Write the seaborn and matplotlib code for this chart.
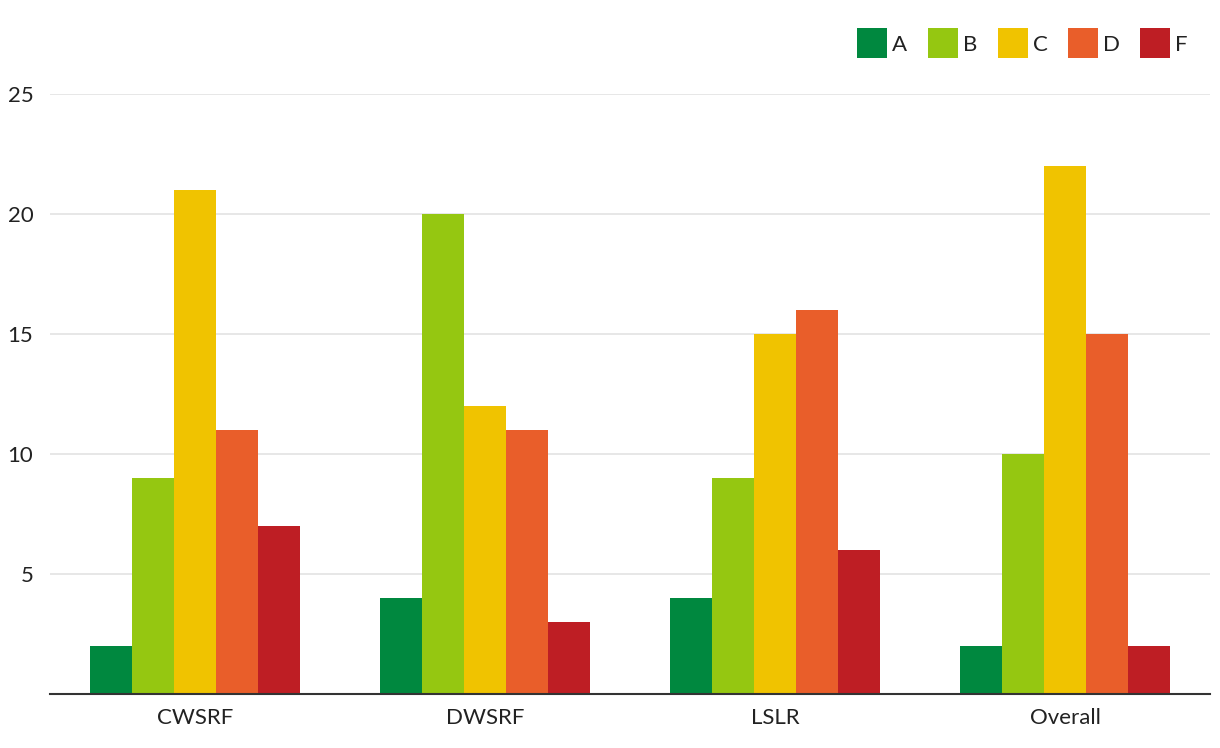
import matplotlib
matplotlib.use("Agg")
import matplotlib.pyplot as plt
import seaborn as sns
import pandas as pd
from matplotlib.lines import Line2D

categories = ["CWSRF", "DWSRF", "LSLR", "Overall"]
grades = ["A", "B", "C", "D", "F"]
A = [2, 4, 4, 2]
B = [9, 20, 9, 10]
C = [21, 12, 15, 22]
D = [11, 11, 16, 15]
F = [7, 3, 6, 2]
colors = ["#00883F", "#95C711", "#F0C300", "#E95E2A", "#BE1E24"]
yticks = [5, 10, 15, 20, 25]

rows = []
for g, vals in zip(grades, [A, B, C, D, F]):
    for c, v in zip(categories, vals):
        rows.append({"category": c, "grade": g, "value": v})
df = pd.DataFrame(rows)

sns.set_theme(style="white")
plt.rcParams['font.family'] = ['Lato', 'DejaVu Sans']

fig = plt.figure(figsize=(12.2, 7.48), dpi=100)
ax = fig.add_axes([50/1220, 54/748, 1160/1220, 600/748])
sns.barplot(data=df, x="category", y="value", hue="grade", palette=colors,
            width=0.724, gap=0, saturation=1, ax=ax, legend=False,
            order=categories, hue_order=grades, linewidth=0)
ax.set_ylim(0, 25)
ax.set_xlim(-0.5, 3.5)
ax.set_yticks(yticks)
ax.set_yticklabels([str(t) for t in yticks])
ax.yaxis.grid(True, color="#E3E3E3", linewidth=1.2)
ax.set_axisbelow(True)
for s in ["top", "right", "left"]:
    ax.spines[s].set_visible(False)
ax.spines["bottom"].set_color("#333333")
ax.spines["bottom"].set_linewidth(1.5)
ax.set_xlabel("")
ax.set_ylabel("")
ax.tick_params(axis="y", length=0, labelsize=16, colors="#222222", pad=12)
ax.tick_params(axis="x", length=0, labelsize=16, colors="#222222", pad=10)

handles = [Line2D([0], [0], marker="s", linestyle="", markersize=21,
                  markerfacecolor=c, markeredgewidth=0) for c in colors]
leg = fig.legend(handles, grades, loc="center right", bbox_to_anchor=(1208/1220, 1 - 45/748),
                 ncol=5, frameon=False, fontsize=16, handletextpad=0.25,
                 columnspacing=0.95, handlelength=1.3)
for t in leg.get_texts():
    t.set_color("#222222")

fig.savefig("out.png", dpi=100)
